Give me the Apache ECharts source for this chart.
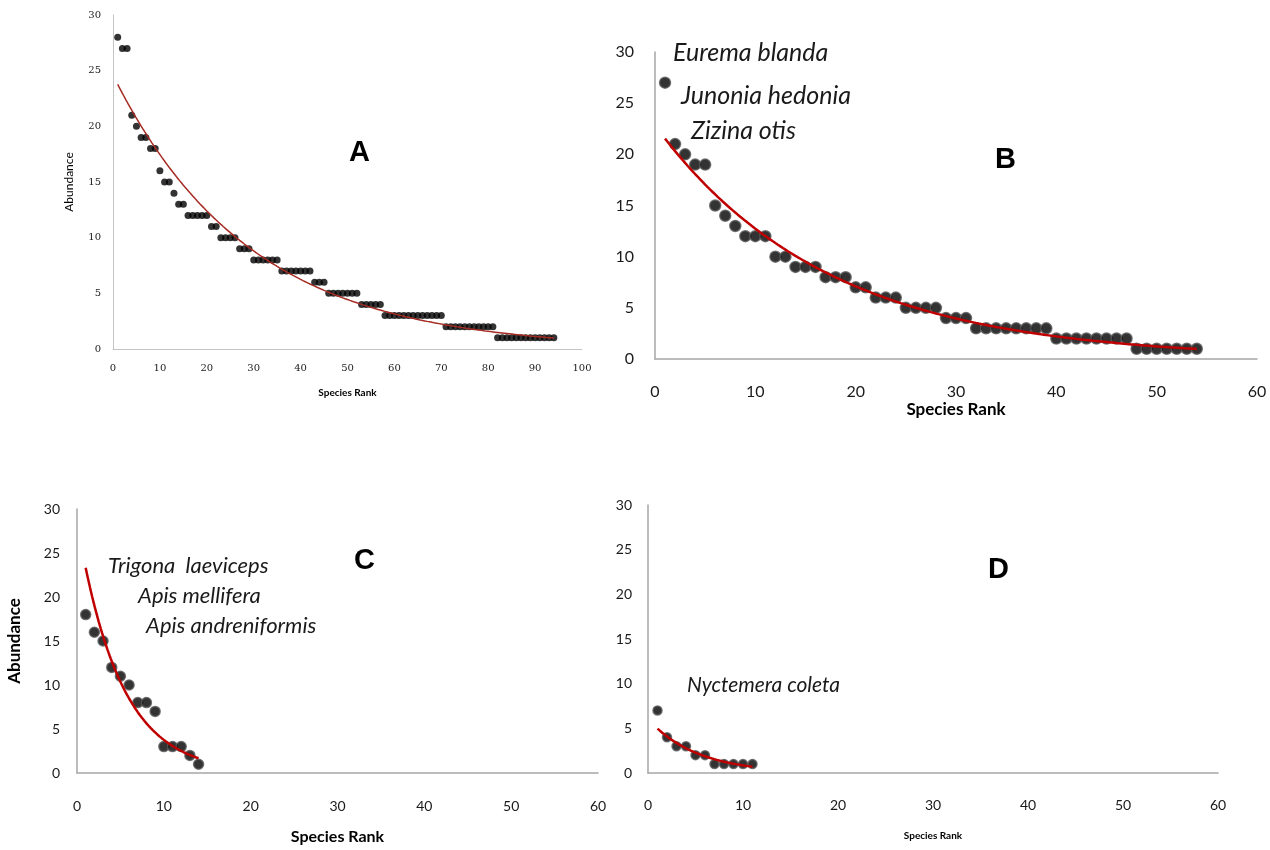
<!DOCTYPE html>
<html><head><meta charset="utf-8">
<script src="https://cdn.jsdelivr.net/npm/echarts@6/dist/echarts.min.js"></script>
<style>html,body{margin:0;padding:0;background:#fff}#c{width:1270px;height:850px}</style>
</head><body><div id="c"></div><script>
// ---- data (abundance by species rank, rank = position + 1) ----
const abundanceA = [28,27,27,21,20,19,19,18,18,16,15,15,14,13,13,12,12,12,12,12,11,11,10,10,10,10,9,9,9,
  8,8,8,8,8,8,7,7,7,7,7,7,7,6,6,6,5,5,5,5,5,5,5,4,4,4,4,4,
  3,3,3,3,3,3,3,3,3,3,3,3,3, 2,2,2,2,2,2,2,2,2,2,2, 1,1,1,1,1,1,1,1,1,1,1,1,1];
const abundanceB = [27,21,20,19,19,15,14,13,12,12,12,10,10,9,9,9,8,8,8,7,7,6,6,6,5,5,5,5,4,4,4,
  3,3,3,3,3,3,3,3,2,2,2,2,2,2,2,2,1,1,1,1,1,1,1];
const abundanceC = [18,16,15,12,11,10,8,8,7,3,3,3,2,1];
const abundanceD = [7,4,3,3,2,2,1,1,1,1,1];
const speciesB = ['Eurema blanda','Junonia hedonia','Zizina otis'];
const speciesC = ['Trigona  laeviceps','Apis mellifera','Apis andreniformis'];
const speciesD = ['Nyctemera coleta'];
const panelLetters = ['A','B','C','D'];
const xMaxA = 100, xMaxBCD = 60, yMax = 30;
const xName = 'Species Rank', yName = 'Abundance';

function points(vals){ return vals.map((v,i)=>[i+1,v]); }
// Excel-style exponential trendline: least squares on ln(y)
function expFit(vals){
  const n = vals.length; let sx=0, sy=0, sxy=0, sxx=0;
  vals.forEach((v,i)=>{ const x=i+1, y=Math.log(v); sx+=x; sy+=y; sxy+=x*y; sxx+=x*x; });
  const b = (n*sxy - sx*sy)/(n*sxx - sx*sx);
  const lna = (sy - b*sx)/n;
  return {a:Math.exp(lna), b:b};
}
function trend(vals){
  const f = expFit(vals), out=[];
  for (let k=0; k<=(vals.length-1)*8; k++){ const x = 1 + k/8; out.push([x, f.a*Math.exp(f.b*x)]); }
  return out;
}

const sans = 'Lato';
const grids = [
  {left:113, top:15, width:469, height:334},
  {left:655, top:52, width:602, height:307},
  {left:77, top:509, width:521, height:264},
  {left:648, top:505, width:570, height:268}
];
function xAxisCfg(i, max, opt){
  return {gridIndex:i, type:'value', min:0, max:max, interval:10,
    axisLine:{show:true, onZero:false, lineStyle:{color:opt.line, width:opt.lw}},
    axisTick:{show:false}, splitLine:{show:false},
    axisLabel:{fontFamily:opt.ff, fontSize:opt.fs, color:'#1a1a1a', margin:opt.xm, showMinLabel:true, showMaxLabel:true, hideOverlap:false},
    name:opt.name, nameLocation:'middle', nameGap:opt.ng,
    nameTextStyle:{fontFamily:sans, fontWeight:'bold', fontSize:opt.nfs, color:'#000'}};
}
function yAxisCfg(i, opt){
  return {gridIndex:i, type:'value', min:0, max:yMax, interval:5,
    axisLine:{show:true, onZero:false, lineStyle:{color:opt.line, width:opt.lw}},
    axisTick:{show:false}, splitLine:{show:false},
    axisLabel:{fontFamily:opt.ff, fontSize:opt.fs, color:'#1a1a1a', margin:opt.ym, showMinLabel:true, showMaxLabel:true, hideOverlap:false},
    name:opt.yname || '', nameLocation:'middle', nameGap:opt.yng || 0,
    nameTextStyle:{fontFamily:sans, fontWeight:opt.ynw || 'normal', fontSize:opt.ynfs || 12, color:'#000'}};
}
const optA = {line:'#c4c4c4', lw:1, ff:'DejaVu Serif', fs:10, xm:14, ym:12, name:xName, ng:39, nfs:10, yname:yName, yng:38, ynfs:12};
const optB = {line:'#a6a6a6', lw:1.5, ff:sans, fs:16, xm:25, ym:21, name:xName, ng:42, nfs:17};
const optC = {line:'#a6a6a6', lw:1.5, ff:sans, fs:14, xm:26, ym:17, name:xName, ng:56, nfs:16, yname:yName, yng:54, ynfs:17, ynw:'bold'};
const optD = {line:'#a6a6a6', lw:1.5, ff:sans, fs:14, xm:25, ym:16, name:xName, ng:58, nfs:10};

function scatter(i, vals, size){
  return {type:'scatter', xAxisIndex:i, yAxisIndex:i, data:points(vals), symbolSize:size, z:2,
    itemStyle:{color:'#000', borderColor: i===0 ? '#000' : '#5a5a5a', borderWidth: i===0 ? 0 : 1.5}};
}
function trendLine(i, vals, color, w){
  return {type:'line', xAxisIndex:i, yAxisIndex:i, data:trend(vals), showSymbol:false, symbol:'none', z:3,
    lineStyle:{color:color, width:w}, silent:true};
}
function txt(x, y, s, size){
  return {type:'text', left:x, top:y, style:{text:s, fontFamily:sans, fontSize:size, fontStyle:'italic', fill:'#1a1a1a'}};
}
function letter(x, y, s){
  return {type:'text', left:x, top:y, style:{text:s, fontFamily:'Liberation Sans', fontWeight:'bold', fontSize:29, fill:'#000'}};
}

const chart = echarts.init(document.getElementById('c'), null, {renderer:'canvas'});
chart.setOption({
  animation:false,
  backgroundColor:'#fff',
  grid: grids,
  xAxis:[xAxisCfg(0,xMaxA,optA), xAxisCfg(1,xMaxBCD,optB), xAxisCfg(2,xMaxBCD,optC), xAxisCfg(3,xMaxBCD,optD)],
  yAxis:[yAxisCfg(0,optA), yAxisCfg(1,optB), yAxisCfg(2,optC), yAxisCfg(3,optD)],
  series:[
    scatter(0, abundanceA, 7), trendLine(0, abundanceA, '#a52a22', 1.5),
    scatter(1, abundanceB, 11), trendLine(1, abundanceB, '#c00000', 2.5),
    scatter(2, abundanceC, 10), trendLine(2, abundanceC, '#c00000', 2.5),
    scatter(3, abundanceD, 9), trendLine(3, abundanceD, '#c00000', 2.5)
  ],
  graphic:[
    txt(673, 40, speciesB[0], 25), txt(681, 83, speciesB[1], 25), txt(691, 118, speciesB[2], 25),
    txt(108, 555, speciesC[0], 22), txt(138, 585, speciesC[1], 22), txt(146, 615, speciesC[2], 22),
    txt(687, 675, speciesD[0], 21),
    letter(349, 138, panelLetters[0]), letter(995, 145, panelLetters[1]),
    letter(354, 546, panelLetters[2]), letter(988, 555, panelLetters[3])
  ]
});
</script></body></html>
